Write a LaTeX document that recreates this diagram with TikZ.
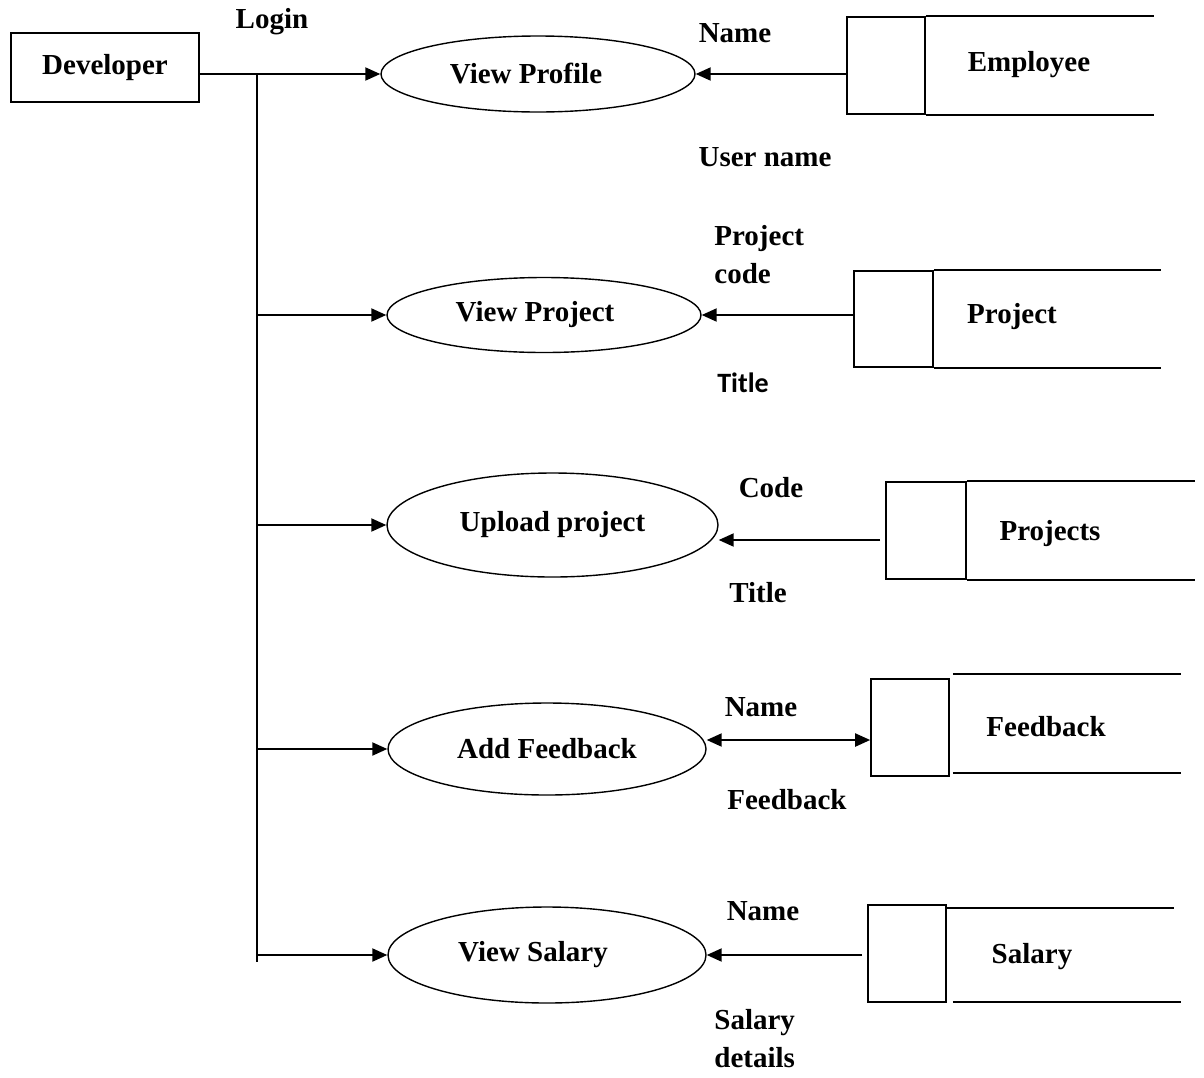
\documentclass[tikz,border=0pt]{standalone}
\usepackage{fontspec}
\setmainfont{Liberation Serif}
\newfontfamily\titlefont{Carlito}
\usetikzlibrary{shapes.geometric,arrows.meta}

\begin{document}
\begin{tikzpicture}[x=0.5pt,y=-0.5pt,
  font=\fontsize{14.5}{17}\selectfont\bfseries,
  dfdtip/.tip={Triangle[length=7.5pt,width=6.5pt]},
  flow/.style={-dfdtip,line width=1pt},
  proc/.style={ellipse,draw,line width=0.7pt,inner sep=0pt},
  ent/.style={draw,line width=0.8pt,minimum width=94pt,minimum height=34.5pt},
  store/.style={draw,line width=0.8pt,inner sep=0pt,minimum width=39pt,minimum height=48.5pt},
  openline/.style={line width=0.8pt},
  lbl/.style={inner sep=0pt}]
\useasboundingbox (0,0) rectangle (1204,1077);

% external entity and processes
\node[ent] (dev) at (105,67.5) {Developer};
\node[proc,minimum width=157pt,minimum height=38pt] (vprof) at (538,74) {View Profile\kern12pt};
\node[proc,minimum width=157pt,minimum height=37.5pt] (vproj) at (544,315) {View Project\kern9pt};
\node[proc,minimum width=165.5pt,minimum height=52pt] (upl) at (552.5,525) {Upload project};
\node[proc,minimum width=159pt,minimum height=46pt] (addfb) at (547,749) {Add Feedback};
\node[proc,minimum width=159pt,minimum height=48pt] (vsal) at (547,955) {View Salary\kern14pt};

% data stores
\node[store] (emp) at (886,65.5) {};
\node[store,minimum width=39.5pt,minimum height=48pt] (prj) at (893.5,319) {};
\node[store,minimum width=40pt] (prjs) at (926,530.5) {};
\node[store] (fb) at (910,727.5) {};
\node[store] (sal) at (907,953.5) {};

\draw[openline] (emp.north east) -- +(228,0);
\draw[openline] (emp.south east) -- +(228,0);
\draw[openline] (prj.north east) -- +(227,0);
\draw[openline] (prj.south east) -- +(227,0);
\draw[openline] (prjs.north east) -- +(228,0);
\draw[openline] (prjs.south east) -- +(228,0);
\draw[openline] ([shift={(3,-4)}]fb.north east) -- +(228,0);
\draw[openline] ([shift={(3,-4)}]fb.south east) -- +(228,0);
\draw[openline] ([shift={(0,4)}]sal.north east) -- +(227,0);
\draw[openline] ([shift={(6,-1)}]sal.south east) -- +(228,0);

\node[lbl] (empname) at (1029,65) {Employee};
\node[lbl] (prjname) at (1012,317) {Project};
\node[lbl] (prjsname) at (1050,534) {Projects};
\node[lbl] (fbname) at (1046,727) {Feedback};
\node[lbl] (salname) at (1032,957) {Salary};

% login trunk
\coordinate (top) at (257,74);
\coordinate (bot) at (257,962);
\draw[line width=1pt] (top) -- (bot);
\draw[flow] (dev.east |- vprof.west) -- (vprof.west);
\foreach \p in {vproj,upl,addfb,vsal}
  \draw[flow] (top |- \p.west) -- (\p.west);

% store flows
\draw[flow] (emp.west |- vprof.east) -- (vprof.east);
\draw[flow] (prj.west |- vproj.east) -- (vproj.east);
\draw[flow] ([shift={(-5,9.5)}]prjs.west) -- ([shift={(0,15)}]upl.east);
\draw[dfdtip-dfdtip,line width=1pt]
  ([shift={(0,-9)}]addfb.east) -- ([shift={(0,12.5)}]fb.west);
\draw[flow] ([shift={(-5,1.5)}]sal.west) -- (vsal.east);

% flow labels
\node[lbl] (login) at (272,22) {Login};
\node[lbl] (n1) at (735,33) {Name};
\node[lbl] (uname) at (765,157) {User name};
\node[lbl,anchor=west,align=left,font=\fontsize{14.5}{19}\selectfont\bfseries] (pcode) at (714,255) {Project\\code};
\node[lbl,font=\fontsize{14}{17}\selectfont\titlefont\bfseries] (t1) at (743,383) {Title};
\node[lbl] (code) at (771,488) {Code};
\node[lbl] (t2) at (758,593) {Title};
\node[lbl] (n2) at (761,707) {Name};
\node[lbl] (fbk) at (787,800) {Feedback};
\node[lbl] (n3) at (763,911) {Name};
\node[lbl,anchor=west,align=left,font=\fontsize{14.5}{19}\selectfont\bfseries] (sdet) at (714,1039) {Salary\\details};

\end{tikzpicture}
\end{document}
